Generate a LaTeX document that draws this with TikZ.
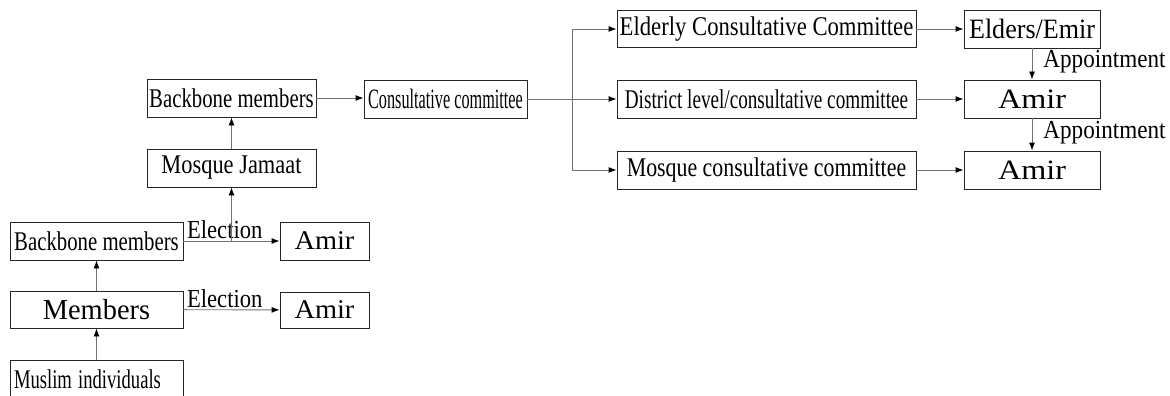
\documentclass[tikz,border=0pt]{standalone}
\usepackage{fontspec}
\setmainfont{Liberation Serif}
\usepackage{graphicx}
\usetikzlibrary{arrows.meta}
\newcommand{\squeeze}[2]{\scalebox{#1}[1]{#2}}

\begin{document}
\begin{tikzpicture}[x=1pt, y=-1pt,
    box/.style={draw=black!85, line width=0.9pt, inner sep=0pt, minimum height=38pt},
    link/.style={-{Latex[length=8pt,width=6pt,color=black]}, draw=black!55, line width=0.9pt},
    lbl/.style={inner sep=2pt}]
    \useasboundingbox (0,0) rectangle (1170,396);

    % === Left column - members and elections ===
    \node[box,minimum width=173pt,text width=165pt,align=left,font=\fontsize{27}{29}\selectfont] (muslim) at (96.5,379) {\squeeze{0.69}{Muslim individuals}};
    \node[box,minimum width=173pt,minimum height=37pt,font=\fontsize{29}{31}\selectfont] (members) at (96.5,309.5) {\squeeze{0.98}{Members}};
    \node[box,minimum width=173pt,font=\fontsize{27}{29}\selectfont] (bbl) at (96.5,241) {\squeeze{0.77}{Backbone members}};
    \node[box,minimum width=89pt,minimum height=36pt,font=\fontsize{27}{29}\selectfont] (amirA) at (324.5,310) {\squeeze{1.05}{Amir}};
    \node[box,minimum width=89pt,font=\fontsize{27}{29}\selectfont] (amirB) at (324.5,241) {\squeeze{1.05}{Amir}};

    \draw[link] (muslim) -- (members);
    \draw[link] (members) -- (bbl);
    \draw[link] (members) -- node[lbl,above,pos=0.43,font=\fontsize{26}{28}\selectfont] {\squeeze{0.87}{Election}} (amirA);
    \draw[link] (bbl) -- node[lbl,above,pos=0.43,font=\fontsize{26}{28}\selectfont] {\squeeze{0.87}{Election}} (amirB);

    % === Middle - mosque level ===
    \node[box,minimum width=169pt,font=\fontsize{27}{29}\selectfont] (jamaat) at (231.5,168) {\squeeze{0.83}{Mosque Jamaat}};
    \node[box,minimum width=169pt,font=\fontsize{27}{29}\selectfont] (bbu) at (231.5,98) {\squeeze{0.77}{Backbone members}};
    \node[box,minimum width=163pt,font=\fontsize{28}{30}\selectfont] (consult) at (445.5,99) {\squeeze{0.58}{Consultative committee}};
    \coordinate (elect) at (231.5,241);
    \coordinate (br) at (572,99);

    \draw[link] (elect) -- (jamaat);
    \draw[link] (jamaat) -- (bbu);
    \draw[link] (bbu) -- (bbu -| consult.west);

    % === Right - committees ===
    \node[box,minimum width=299pt,minimum height=37pt,font=\fontsize{27}{29}\selectfont] (elderly) at (766.5,29) {\squeeze{0.84}{Elderly Consultative Committee}};
    \node[box,minimum width=299pt,font=\fontsize{27}{29}\selectfont] (district) at (766.5,99) {\squeeze{0.71}{District level/consultative committee}};
    \node[box,minimum width=299pt,font=\fontsize{27}{29}\selectfont] (mosquec) at (766.5,170) {\squeeze{0.81}{Mosque consultative committee}};
    \node[box,minimum width=136pt,font=\fontsize{28}{30}\selectfont] (elders) at (1032,29) {\squeeze{0.93}{Elders/Emir}};
    \node[box,minimum width=136pt,font=\fontsize{28}{30}\selectfont] (amirC) at (1032,99) {\squeeze{1.15}{Amir}};
    \node[box,minimum width=136pt,font=\fontsize{28}{30}\selectfont] (amirD) at (1032,170) {\squeeze{1.15}{Amir}};

    \draw[link] (consult) -- (district);
    \draw[link] (br) |- (elderly);
    \draw[link] (br) |- (mosquec);
    \draw[link] (elderly) -- (elders);
    \draw[link] (district) -- (amirC);
    \draw[link] (mosquec) -- (amirD);
    \draw[link] (elders) -- node[lbl,right,xshift=9pt,yshift=2pt,font=\fontsize{26}{28}\selectfont] {\squeeze{0.89}{Appointment}} (amirC);
    \draw[link] (amirC) -- node[lbl,right,xshift=9pt,yshift=2pt,font=\fontsize{26}{28}\selectfont] {\squeeze{0.89}{Appointment}} (amirD);
\end{tikzpicture}
\end{document}
